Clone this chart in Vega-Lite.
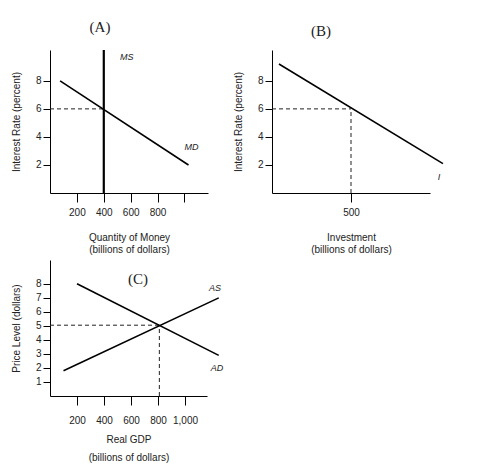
{
  "$schema": "https://vega.github.io/schema/vega-lite/v6.json",
  "padding": {"left": 11, "top": 19, "right": 5, "bottom": 5},
  "columns": 2,
  "spacing": {"column": 9, "row": 6},
  "datasets": {
    "a_dash": [{"x": 0, "y": 6}, {"x": 400, "y": 6}],
    "a_md": [{"x": 75, "y": 8}, {"x": 1030, "y": 2}],
    "a_ms": [{"x": 400, "y": 0}, {"x": 400, "y": 10.2}],
    "a_lab": [{"x": 570, "y": 9.7, "t": "MS"}, {"x": 1052, "y": 3.3, "t": "MD"}],
    "b_dash": [{"x": 0, "y": 6, "s": "h"}, {"x": 500, "y": 6, "s": "h"}, {"x": 500, "y": 0, "s": "v"}, {"x": 500, "y": 6, "s": "v"}],
    "b_i": [{"x": 44, "y": 9.2}, {"x": 1082, "y": 2.1}],
    "b_lab": [{"x": 1057, "y": 1.14, "t": "I"}],
    "c_dash": [{"x": 0, "y": 5.05, "s": "h"}, {"x": 810, "y": 5.05, "s": "h"}, {"x": 810, "y": 0, "s": "v"}, {"x": 810, "y": 5.05, "s": "v"}],
    "c_ad": [{"x": 200, "y": 8}, {"x": 1250, "y": 2.9}],
    "c_as": [{"x": 100, "y": 1.8}, {"x": 1250, "y": 7}],
    "c_lab": [{"x": 1222, "y": 7.7, "t": "AS"}, {"x": 1237, "y": 2.0, "t": "AD"}],
    "c_title": [{"x": 652, "y": 8.36, "t": "(C)"}]
  },
  "concat": [
    {
      "width": 158,
      "height": 143,
      "title": {"text": "(A)", "font": "Liberation Serif", "fontSize": 15, "fontWeight": "normal", "dx": -29, "offset": 11, "color": "#222"},
      "encoding": {
        "x": {"field": "x", "type": "quantitative", "scale": {"domain": [0, 1175], "nice": false}, "axis": {"values": [200, 400, 600, 800, 1000], "labelExpr": "datum.value == 1000 ? '' : datum.label", "title": ["Quantity of Money", "(billions of dollars)"], "tickSize": 9, "labelPadding": 5, "titlePadding": 15}},
        "y": {"field": "y", "type": "quantitative", "scale": {"domain": [0, 10.2], "nice": false}, "axis": {"values": [2, 4, 6, 8], "title": "Interest Rate (percent)", "tickSize": 7}}
      },
      "layer": [
        {"data": {"name": "a_dash"}, "mark": {"type": "line", "strokeDash": [4, 3], "strokeWidth": 1, "color": "#222"}},
        {"data": {"name": "a_md"}, "mark": {"type": "line", "strokeWidth": 1.6, "color": "black"}},
        {"data": {"name": "a_ms"}, "mark": {"type": "line", "strokeWidth": 2.2, "color": "black"}},
        {"data": {"name": "a_lab"}, "mark": {"type": "text", "font": "Liberation Sans", "fontStyle": "italic", "fontSize": 9, "color": "#222"}, "encoding": {"text": {"field": "t"}}}
      ]
    },
    {
      "width": 158,
      "height": 143,
      "title": {"text": "(B)", "font": "Liberation Serif", "fontSize": 15, "fontWeight": "normal", "dx": -30, "offset": 11, "color": "#222"},
      "encoding": {
        "x": {"field": "x", "type": "quantitative", "scale": {"domain": [0, 1000], "nice": false}, "axis": {"values": [500], "title": ["Investment", "(billions of dollars)"], "tickSize": 9, "labelPadding": 5, "titlePadding": 15}},
        "y": {"field": "y", "type": "quantitative", "scale": {"domain": [0, 10.2], "nice": false}, "axis": {"values": [2, 4, 6, 8], "title": "Interest Rate (percent)", "tickSize": 7}}
      },
      "layer": [
        {"data": {"name": "b_dash"}, "mark": {"type": "line", "strokeDash": [4, 3], "strokeWidth": 1, "color": "#222"}, "encoding": {"detail": {"field": "s"}}},
        {"data": {"name": "b_i"}, "mark": {"type": "line", "strokeWidth": 1.6, "color": "black"}},
        {"data": {"name": "b_lab"}, "mark": {"type": "text", "font": "Liberation Sans", "fontStyle": "italic", "fontSize": 9, "color": "#222"}, "encoding": {"text": {"field": "t"}}}
      ]
    },
    {
      "width": 157,
      "height": 136,
      "encoding": {
        "x": {"field": "x", "type": "quantitative", "scale": {"domain": [0, 1163], "nice": false}, "axis": {"values": [200, 400, 600, 800, 1000], "format": ",d", "title": ["Real GDP", "(billions of dollars)"], "tickSize": 9, "labelPadding": 10, "titlePadding": 9, "titleLineHeight": 18}},
        "y": {"field": "y", "type": "quantitative", "scale": {"domain": [0, 9.7], "nice": false}, "axis": {"values": [1, 2, 3, 4, 5, 6, 7, 8], "title": "Price Level (dollars)", "tickSize": 7}}
      },
      "layer": [
        {"data": {"name": "c_dash"}, "mark": {"type": "line", "strokeDash": [4, 3], "strokeWidth": 1, "color": "#222"}, "encoding": {"detail": {"field": "s"}}},
        {"data": {"name": "c_ad"}, "mark": {"type": "line", "strokeWidth": 1.6, "color": "black"}},
        {"data": {"name": "c_as"}, "mark": {"type": "line", "strokeWidth": 1.6, "color": "black"}},
        {"data": {"name": "c_lab"}, "mark": {"type": "text", "font": "Liberation Sans", "fontStyle": "italic", "fontSize": 9, "color": "#222"}, "encoding": {"text": {"field": "t"}}},
        {"data": {"name": "c_title"}, "mark": {"type": "text", "font": "Liberation Serif", "fontSize": 15, "color": "#222"}, "encoding": {"text": {"field": "t"}}}
      ]
    }
  ],
  "config": {
    "view": {"stroke": null},
    "axis": {
      "grid": false,
      "domainColor": "black",
      "tickColor": "black",
      "labelFont": "Liberation Sans",
      "labelFontSize": 10,
      "labelColor": "#222",
      "labelPadding": 2,
      "titleFont": "Liberation Sans",
      "titleFontSize": 10,
      "titleFontWeight": "normal",
      "titleColor": "#222",
      "titlePadding": 14
    }
  }
}
